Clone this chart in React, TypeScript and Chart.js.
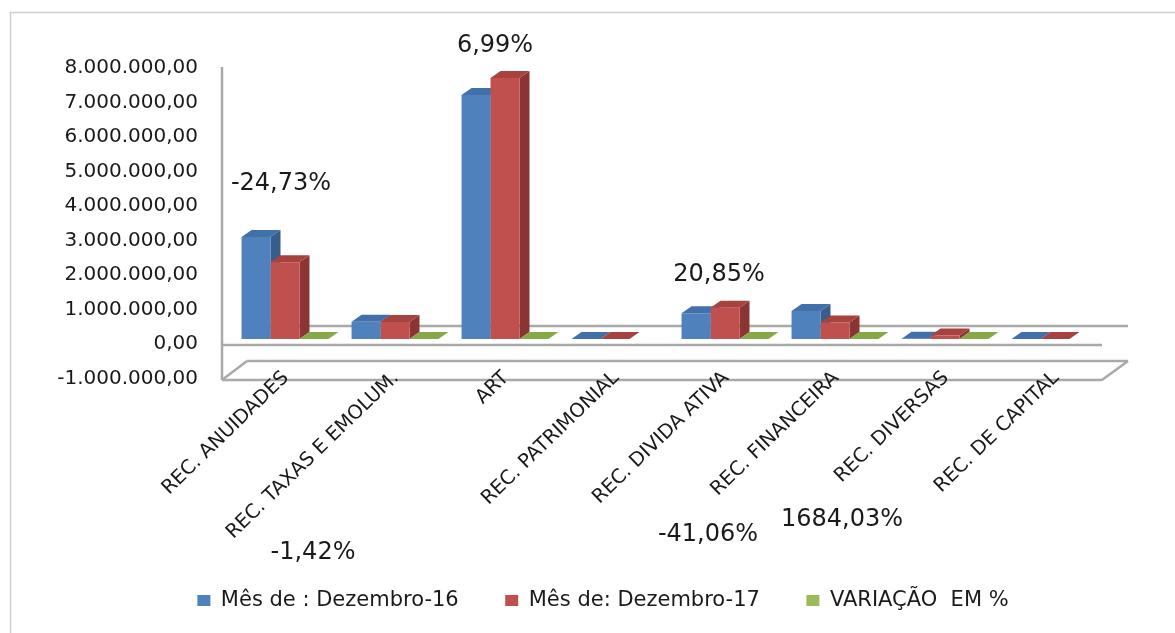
import React, { useEffect, useRef } from 'react';
import { Chart, registerables } from 'chart.js';

Chart.register(...registerables);

// ---- data ----
const categories = [
  'REC. ANUIDADES',
  'REC. TAXAS E EMOLUM.',
  'ART',
  'REC. PATRIMONIAL',
  'REC. DIVIDA ATIVA',
  'REC. FINANCEIRA',
  'REC. DIVERSAS',
  'REC. DE CAPITAL',
];
const dezembro16 = [2960000, 500000, 7070000, 0, 750000, 810000, 5612, 0];
const dezembro17 = [2228000, 492900, 7564200, 0, 906400, 477400, 100120, 0];
const variacaoPct: (number | null)[] = [-24.73, -1.42, 6.99, null, 20.85, -41.06, 1684.03, null];
const seriesNames = ['Mês de : Dezembro-16', 'Mês de: Dezembro-17', 'VARIAÇÃO  EM %'];
const yMin = -1000000;
const yMax = 8000000;
const yStep = 1000000;

// ---- placement of the (manually moved) variation labels ----
// horizontal shift from the category centre (px) and baseline height in axis units
const pctLabelDx = [-4, -82, -10, 0, -6, -127, -103, 0];
const pctLabelAt = [4320000, -6380000, 8320000, 0, 1680000, -5860000, -5420000, 0];

const FONT = "'DejaVu Sans', 'Liberation Sans', sans-serif";
const TEXT = '#1a1a1a';
const DX = 10;
const DY = 7;
const LABEL_ANGLE = 44;
const frontColors = ['#4f81bd', '#c0504d', '#9bbb59'];
const sideColors = ['#375d8c', '#8a3533', '#6f8a3c'];
const topColors = ['#4270ab', '#a8423f', '#86a847'];

const LEGEND_FONT = 21;
const LEGEND_PAD = 46.5;
const PAD_BOTTOM = 12;
const PLOT_BOTTOM = 373.5;

function fmtMoney(v: number): string {
  const neg = v < 0;
  const s = Math.abs(Math.round(v)).toString().replace(/\B(?=(\d{3})+(?!\d))/g, '.');
  return (neg ? '-' : '') + s + ',00';
}
function fmtPct(v: number): string {
  return v.toFixed(2).replace('.', ',') + '%';
}

const frame3d = {
  id: 'frame3d',
  beforeDraw(chart: any) {
    const ctx = chart.ctx;
    ctx.save();
    ctx.strokeStyle = '#cfcfcf';
    ctx.lineWidth = 1.5;
    ctx.strokeRect(10.5, 12.5, chart.width + 20, chart.height + 20);
    ctx.restore();
  },
  beforeDatasetsDraw(chart: any) {
    const ctx = chart.ctx;
    const { left, right, top } = chart.chartArea;
    const base = chart.scales.y.getPixelForValue(0);
    ctx.save();
    ctx.strokeStyle = '#a9a9a9';
    ctx.lineWidth = 2.5;
    const line = (x1: number, y1: number, x2: number, y2: number) => {
      ctx.beginPath();
      ctx.moveTo(x1, y1);
      ctx.lineTo(x2, y2);
      ctx.stroke();
    };
    // vertical axis / wall edge
    line(left - 8, top + 4, left - 8, base + 41);
    // back wall bottom edge
    line(left + 18, base - 13, right + 18, base - 13);
    // floor front edge
    line(left - 8, base + 6, right - 8, base + 6);
    // floor slab
    line(left + 17, base + 22, right + 18, base + 22);
    line(left - 8, base + 41, right - 8, base + 41);
    line(left - 8, base + 41, left + 17, base + 22);
    line(right - 8, base + 41, right + 18, base + 22);

    // 3D side and top faces of each bar (fronts are drawn by Chart.js afterwards)
    chart.data.datasets.forEach((ds: any, di: number) => {
      const meta = chart.getDatasetMeta(di);
      meta.data.forEach((el: any, j: number) => {
        if (ds.data[j] == null) return;
        const p = el.getProps(['x', 'y', 'base', 'width'], true);
        const l = p.x - p.width / 2;
        const r = p.x + p.width / 2;
        const t = Math.min(p.y, p.base);
        const b = Math.max(p.y, p.base);
        ctx.fillStyle = sideColors[di];
        ctx.beginPath();
        ctx.moveTo(r, t);
        ctx.lineTo(r + DX, t - DY);
        ctx.lineTo(r + DX, b - DY);
        ctx.lineTo(r, b);
        ctx.closePath();
        ctx.fill();
        ctx.fillStyle = topColors[di];
        ctx.beginPath();
        ctx.moveTo(l, t);
        ctx.lineTo(l + DX, t - DY);
        ctx.lineTo(r + DX, t - DY);
        ctx.lineTo(r, t);
        ctx.closePath();
        ctx.fill();
      });
    });
    ctx.restore();
  },
  afterDatasetsDraw(chart: any) {
    const ctx = chart.ctx;
    const xs = chart.scales.x;
    const ys = chart.scales.y;
    const { left } = chart.chartArea;
    const base = ys.getPixelForValue(0);
    ctx.save();
    ctx.fillStyle = TEXT;
    // value-axis tick labels (right aligned against the wall)
    ctx.font = `20px ${FONT}`;
    ctx.textAlign = 'right';
    ctx.textBaseline = 'middle';
    ys.ticks.forEach((t: any) => {
      ctx.fillText(fmtMoney(t.value), left - 32, ys.getPixelForValue(t.value) + 5);
    });
    // category labels, slanted, ending just under the floor
    ctx.font = `19.5px ${FONT}`;
    ctx.textAlign = 'right';
    ctx.textBaseline = 'middle';
    categories.forEach((c, i) => {
      ctx.save();
      ctx.translate(xs.getPixelForValue(i) + 1, base + 36);
      ctx.rotate((-LABEL_ANGLE * Math.PI) / 180);
      ctx.fillText(c, 0, 0);
      ctx.restore();
    });
    // variation labels
    ctx.font = `24px ${FONT}`;
    ctx.textAlign = 'center';
    ctx.textBaseline = 'alphabetic';
    variacaoPct.forEach((v, i) => {
      if (v == null) return;
      const x = xs.getPixelForValue(i) + pctLabelDx[i];
      const y = ys.getPixelForValue(pctLabelAt[i]);
      ctx.fillText(fmtPct(v), x, y);
    });
    ctx.restore();
  },
};

export default function App() {
  const ref = useRef<HTMLCanvasElement>(null);
  useEffect(() => {
    const legendH = LEGEND_FONT + LEGEND_PAD + 10;
    const xAxisH = 633 - PAD_BOTTOM - legendH - PLOT_BOTTOM;
    const chart = new Chart(ref.current as HTMLCanvasElement, {
      type: 'bar',
      data: {
        labels: categories,
        datasets: [
          { label: seriesNames[0], data: dezembro16, backgroundColor: frontColors[0] },
          { label: seriesNames[1], data: dezembro17, backgroundColor: frontColors[1] },
          { label: seriesNames[2], data: variacaoPct as any, backgroundColor: frontColors[2] },
        ],
      },
      options: {
        animation: false,
        responsive: true,
        maintainAspectRatio: false,
        events: [],
        datasets: { bar: { categoryPercentage: 0.79, barPercentage: 1.0, borderWidth: 0 } },
        layout: { padding: { left: 31, right: 0, top: 63, bottom: PAD_BOTTOM } },
        scales: {
          x: {
            grid: { display: false, drawTicks: false },
            border: { display: false },
            ticks: { display: false },
            afterFit(scale: any) {
              scale.height = xAxisH;
            },
          },
          y: {
            min: yMin,
            max: yMax,
            grid: { display: false, drawTicks: false },
            border: { display: false },
            ticks: { stepSize: yStep, display: false },
            afterFit(scale: any) {
              scale.width = 199;
            },
          },
          yRight: {
            type: 'linear',
            position: 'right',
            display: true,
            grid: { display: false, drawTicks: false },
            border: { display: false },
            ticks: { display: false },
            afterFit(scale: any) {
              scale.width = 65;
            },
          },
        },
        plugins: {
          tooltip: { enabled: false },
          legend: {
            position: 'bottom',
            labels: {
              boxWidth: 13,
              boxHeight: 11,
              padding: LEGEND_PAD,
              color: TEXT,
              font: { family: FONT, size: LEGEND_FONT },
            },
          },
        },
      },
      plugins: [frame3d],
    } as any);
    return () => chart.destroy();
  }, []);
  return (
    <div style={{ position: 'fixed', left: 0, top: 0, width: 1175, height: 633, background: '#ffffff' }}>
      <canvas ref={ref} />
    </div>
  );
}
